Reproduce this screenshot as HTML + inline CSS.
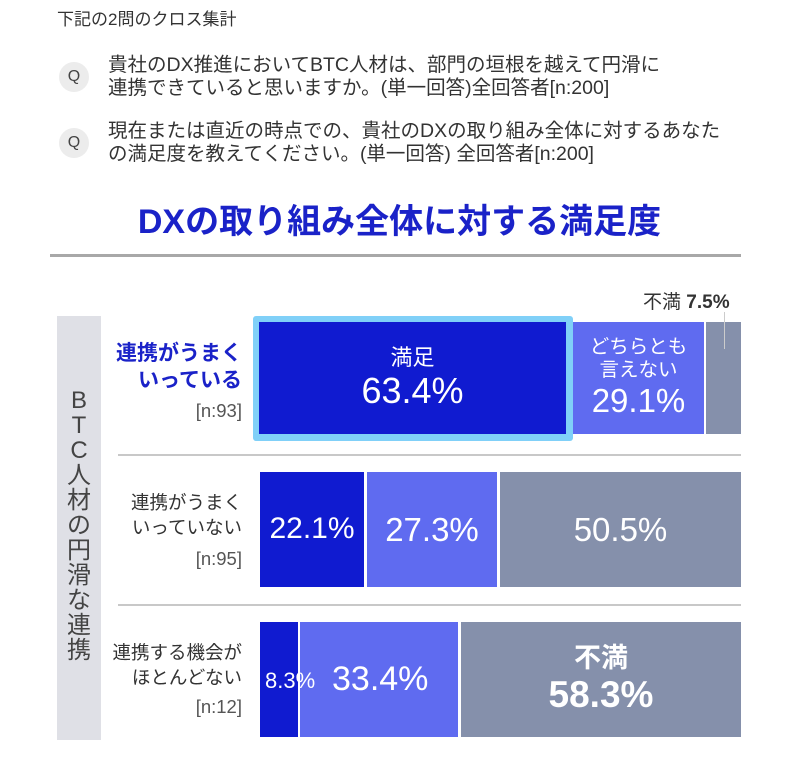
<!DOCTYPE html>
<html><head><meta charset="utf-8"><style>
*{margin:0;padding:0;box-sizing:border-box}
body{width:799px;height:783px;background:#fff;position:relative;overflow:hidden;font-family:"Liberation Sans","Noto Sans CJK JP",sans-serif;color:#333}
.a{position:absolute}
.q{position:absolute;width:30px;height:30px;border-radius:50%;background:#ececec;text-align:center;line-height:30px;font-size:16px;color:#444}
.t{font-size:19.5px;line-height:23px;color:#333;white-space:nowrap}
.b{position:absolute;color:#fff;text-align:center;display:flex;flex-direction:column;justify-content:center;align-items:center;line-height:1.15}
.d{background:#101bd0}.m{background:#5f6bf0}.g{background:#8590ab}
.lab{position:absolute;text-align:right;font-size:18.5px;line-height:25px;white-space:nowrap;right:557px}
.sep{position:absolute;left:118px;width:623px;height:2px;background:#c8c8c8}
</style></head><body>
<div class="a t" style="left:57px;top:8px;font-size:17px">下記の2問のクロス集計</div>
<div class="q" style="left:59px;top:62px">Q</div>
<div class="a t" style="left:108px;top:54px">貴社のDX推進においてBTC人材は、部門の垣根を越えて円滑に<br>連携できていると思いますか。(単一回答)全回答者[n:200]</div>
<div class="q" style="left:59px;top:128px">Q</div>
<div class="a t" style="left:108px;top:120px">現在または直近の時点での、貴社のDXの取り組み全体に対するあなた<br>の満足度を教えてください。(単一回答) 全回答者[n:200]</div>
<div class="a" style="left:0;width:799px;top:194px;text-align:center;font-size:34px;font-weight:bold;color:#1a22c8">DXの取り組み全体に対する満足度</div>
<div class="a" style="left:50px;top:254px;width:691px;height:3px;background:#a8a8a8"></div>
<div class="a" style="left:57px;top:316px;width:44px;height:424px;background:#dfe0e6"></div>
<div class="a" style="left:57px;top:388px;width:44px;text-align:center;font-size:24px;line-height:25px;color:#444">B<br>T<br>C<br>人<br>材<br>の<br>円<br>滑<br>な<br>連<br>携</div>
<div class="a" style="left:643px;top:287px;font-size:19px;color:#333;white-space:nowrap">不満 <b>7.5%</b></div>
<div class="a" style="left:724px;top:312px;width:1px;height:37px;background:#ccc;z-index:3"></div>
<div class="sep" style="top:454px"></div><div class="sep" style="top:604px"></div>
<div class="lab" style="top:340px;color:#1a22c8;font-weight:bold;font-size:21px;line-height:27px">連携がうまく<br>いっている</div>
<div class="lab" style="top:398px;color:#555">[n:93]</div>
<div class="a" style="left:253px;top:316px;width:320px;height:125px;background:#80d0f8;border-radius:3px"></div>
<div class="b d" style="left:259px;top:322px;width:307px;height:112px"><div style="font-size:22px">満足</div><div style="font-size:36px">63.4%</div></div>
<div class="b m" style="left:573px;top:322px;width:131px;height:112px"><div style="font-size:19.5px;line-height:23px">どちらとも<br>言えない</div><div style="font-size:33px">29.1%</div></div>
<div class="b g" style="left:706px;top:322px;width:35px;height:112px"></div>
<div class="lab" style="top:490px">連携がうまく<br>いっていない</div>
<div class="lab" style="top:546px;color:#555">[n:95]</div>
<div class="b d" style="left:260px;top:472px;width:104px;height:115px;font-size:30px">22.1%</div>
<div class="b m" style="left:367px;top:472px;width:130px;height:115px;font-size:33px">27.3%</div>
<div class="b g" style="left:500px;top:472px;width:241px;height:115px;font-size:33px">50.5%</div>
<div class="lab" style="top:640px">連携する機会が<br>ほとんどない</div>
<div class="lab" style="top:694px;color:#555">[n:12]</div>
<div class="b d" style="left:260px;top:622px;width:38px;height:115px"></div>
<div class="b m" style="left:300px;top:622px;width:158px;height:115px"></div>
<div class="a" style="left:265px;top:668px;color:#fff;font-size:22px">8.3%</div>
<div class="a" style="left:332px;top:660px;color:#fff;font-size:34px">33.4%</div>
<div class="b g" style="left:461px;top:622px;width:280px;height:115px"><div style="font-size:27px;font-weight:bold">不満</div><div style="font-size:37px;font-weight:bold">58.3%</div></div>
</body></html>
